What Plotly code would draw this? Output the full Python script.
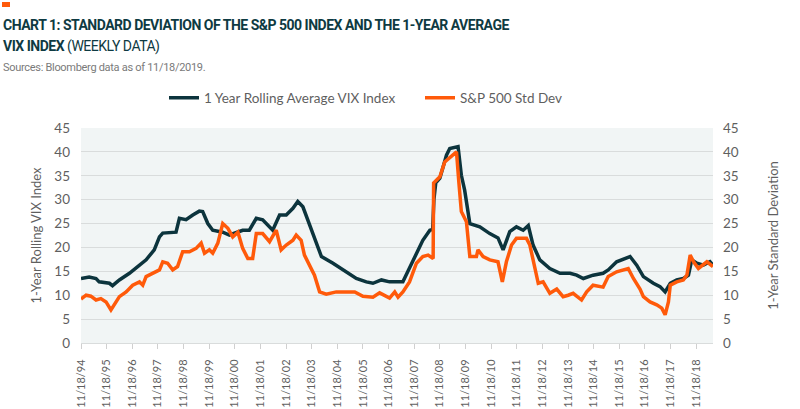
import plotly.graph_objects as go

# ---- data ----
vix_dates = ["1994-11-18","1995-03-15","1995-06-20","1995-08-04","1995-12-28","1996-02-10","1996-05-18",
             "1996-10-08","1997-02-03","1997-06-03","1997-09-27","1997-12-10","1998-01-26","1998-08-03",
             "1998-09-20","1998-12-24","1999-03-30","1999-07-01","1999-08-18","1999-10-30","2000-01-08",
             "2000-05-30","2000-09-02","2000-12-06","2001-03-10","2001-06-13","2001-09-20","2001-12-20",
             "2002-03-28","2002-05-12","2002-08-18","2002-11-21","2003-02-24","2003-05-04","2003-07-16",
             "2003-10-19","2004-01-22","2004-04-05","2004-09-17","2005-03-25","2005-08-15","2006-01-05",
             "2006-04-09","2006-08-08","2006-12-02","2007-06-10","2007-09-12","2007-12-20","2008-03-20",
             "2008-06-28","2008-08-07","2008-08-25","2008-09-20","2008-11-18","2009-02-20","2009-04-08",
             "2009-08-04","2009-09-20","2009-11-06","2010-01-19","2010-06-10","2010-10-30","2011-02-24",
             "2011-05-08","2011-08-11","2011-11-14","2012-02-18","2012-05-01","2012-07-08","2012-10-12",
             "2013-03-04","2013-07-27","2013-12-17","2014-03-21","2014-06-24","2014-11-10","2015-04-02",
             "2015-06-14","2015-10-12","2016-04-20","2016-07-24","2016-10-27","2017-03-18","2017-06-21",
             "2017-09-02","2017-11-14","2018-02-14","2018-05-19","2018-07-31","2018-09-16","2018-11-28",
             "2019-02-28","2019-06-03","2019-07-16"]
vix_values = [13.5,13.8,13.5,12.8,12.5,12.0,13.2,
              14.6,16.0,17.4,19.5,22.2,23.0,23.2,
              26.1,25.8,26.8,27.6,27.5,25.0,23.6,
              23.2,22.6,23.2,23.6,23.6,26.1,25.8,
              24.3,23.6,26.8,26.8,28.2,29.6,28.5,
              24.7,21.2,18.1,16.7,14.9,13.5,12.8,
              12.5,13.2,12.8,12.8,15.6,18.4,21.5,
              23.6,23.8,30.0,33.5,34.5,39.3,40.7,
              41.1,35.1,32.0,25.0,24.3,22.9,22.0,
              19.5,23.3,24.3,23.6,24.6,20.5,17.4,
              15.6,14.6,14.6,14.2,13.5,14.2,14.6,
              15.3,17.0,18.1,16.3,13.9,12.5,11.8,
              10.7,12.5,13.2,13.5,14.2,17.4,16.7,
              16.3,17.0,16.3]

sd_dates = ["1994-11-18","1995-01-30","1995-04-08","1995-06-20","1995-08-28","1995-11-10","1996-01-19",
            "1996-03-07","1996-05-18","1996-08-22","1996-11-24","1997-02-28","1997-04-16","1997-06-03",
            "1997-09-06","1997-12-10","1998-01-26","1998-04-05","1998-06-17","1998-08-25","1998-11-06",
            "1999-02-10","1999-05-16","1999-07-27","1999-09-13","1999-11-21","2000-01-08","2000-03-21",
            "2000-05-30","2000-08-11","2000-10-19","2001-01-01","2001-03-10","2001-05-22","2001-07-30",
            "2001-09-20","2001-12-20","2002-03-28","2002-07-01","2002-09-09","2002-11-21","2003-02-24",
            "2003-04-12","2003-06-21","2003-08-07","2003-10-19","2003-12-28","2004-03-10","2004-06-13",
            "2004-11-03","2005-03-25","2005-07-24","2005-11-18","2006-04-09","2006-07-13","2006-12-02",
            "2007-02-14","2007-04-02","2007-06-10","2007-09-12","2007-12-20","2008-03-20","2008-06-03",
            "2008-08-14","2008-08-21","2008-11-18","2009-01-26","2009-05-26","2009-07-13","2009-08-15",
            "2009-09-20","2009-12-01","2010-01-19","2010-04-23","2010-05-15","2010-07-27","2010-10-30",
            "2011-02-24","2011-04-27","2011-06-24","2011-09-05","2011-11-14","2012-04-05","2012-05-23",
            "2012-07-08","2012-09-20","2012-11-28","2013-03-04","2013-06-10","2013-09-09","2013-11-20",
            "2014-01-30","2014-05-30","2014-08-11","2014-11-10","2015-04-02","2015-06-14","2015-10-12",
            "2016-03-25","2016-06-07","2016-09-09","2016-10-27","2017-01-30","2017-05-05","2017-07-16",
            "2017-09-02","2017-10-19","2017-11-14","2018-02-14","2018-05-19","2018-07-09","2018-08-25",
            "2018-10-12","2018-12-20","2019-04-20","2019-07-01","2019-07-16"]
sd_values = [9.2,10.0,9.8,9.0,9.3,8.6,6.9,
             7.9,9.7,10.7,12.1,12.8,12.1,13.9,
             14.6,15.3,17.0,16.7,15.3,16.0,19.1,
             19.1,19.8,20.9,18.8,19.5,18.8,20.9,
             25.0,24.0,22.2,23.2,19.8,17.7,17.7,
             22.9,22.9,21.2,23.6,19.5,20.5,21.5,
             22.6,21.5,18.4,16.3,14.2,10.7,10.2,
             10.7,10.7,10.7,9.8,9.6,10.5,9.4,
             10.7,9.6,10.7,12.8,16.7,18.1,18.4,
             17.7,33.5,34.8,37.9,39.3,40.0,33.7,
             27.5,25.4,18.1,18.1,19.5,18.1,17.4,
             17.0,12.8,17.0,20.5,21.9,21.9,20.5,
             17.7,12.5,12.8,10.4,11.3,9.7,10.0,
             10.4,9.0,10.7,12.1,11.7,13.9,14.9,
             15.6,13.5,11.3,9.7,8.6,8.0,7.3,
             5.9,8.6,12.1,12.8,13.2,14.2,18.4,
             17.0,15.6,17.0,16.0,16.0]

tick_dates = ["%d-11-18" % y for y in range(1994, 2019)]
tick_labels = ["11/18/%02d" % (y % 100) for y in range(1994, 2019)]
y_ticks = [0, 5, 10, 15, 20, 25, 30, 35, 40, 45]

DARK = "#0C343D"
ORANGE = "#FF5A0A"
GRAY = "#5F5F5F"
TITLE_C = "#0E3A42"
FONT = "Lato"
TFONT = "Roboto"

fig = go.Figure()
fig.add_trace(go.Scatter(x=vix_dates, y=vix_values, mode="lines", name="1 Year Rolling Average VIX Index",
                         line=dict(color=DARK, width=3.5), yaxis="y"))
fig.add_trace(go.Scatter(x=sd_dates, y=sd_values, mode="lines", name="S&P 500 Std Dev",
                         line=dict(color=ORANGE, width=3.5), yaxis="y2"))

L, R, T, B = 81, 87, 128, 66
PW, PH = 800 - L - R, 409 - T - B
def px(x): return (x - L) / PW
def py(y): return (409 - B - y) / PH

TS = "letter-spacing:-0.5px"
fig.update_layout(
    width=800, height=409,
    margin=dict(l=L, r=R, t=T, b=B, pad=0, autoexpand=False),
    paper_bgcolor="white", plot_bgcolor="#F1F5F5",
    font=dict(family=FONT, size=13, color=GRAY),
    showlegend=True,
    legend=dict(orientation="h", x=px(164), y=py(98), xanchor="left", yanchor="middle",
                font=dict(family=FONT, size=13.5, color=GRAY), entrywidth=211, bgcolor="rgba(0,0,0,0)"),
    xaxis=dict(type="date", range=["1994-11-18", "2019-07-16"], tickvals=tick_dates, ticktext=tick_labels,
               tickangle=-90, tickfont=dict(family=FONT, size=11, color=GRAY), showgrid=False,
               ticks="outside", ticklen=5, tickcolor="#D0D0D0", showline=True, linecolor="#D9DCDC",
               zeroline=False, ticklabelstandoff=6, automargin=False),
    yaxis=dict(range=[0, 45], tickvals=y_ticks, showgrid=True, gridcolor="#D9DCDC", gridwidth=1,
               zeroline=False, tickfont=dict(family=FONT, size=13.5, color=GRAY), ticklabelstandoff=10,
               automargin=False,
               title=dict(text="1-Year Rolling VIX Index", font=dict(family=FONT, size=13, color=GRAY), standoff=9)),
    yaxis2=dict(range=[0, 45], tickvals=y_ticks, ticksuffix="%", overlaying="y", side="right", showgrid=False,
                zeroline=False, tickfont=dict(family=FONT, size=13.5, color=GRAY), ticklabelstandoff=9,
                automargin=False,
                title=dict(text="1-Year Standard Deviation", font=dict(family=FONT, size=13, color=GRAY), standoff=31)),
    shapes=[dict(type="rect", xref="paper", yref="paper", x0=px(2), x1=px(10), y0=py(7), y1=py(2),
                 fillcolor=ORANGE, line=dict(width=0))],
    annotations=[
        dict(text="<span style='%s'><b>CHART 1: STANDARD DEVIATION OF THE S&P 500 INDEX AND THE 1-YEAR AVERAGE</b></span>" % TS,
             xref="paper", yref="paper", x=px(1), y=py(25), xanchor="left", yanchor="middle", showarrow=False,
             font=dict(family=TFONT, size=14, color=TITLE_C)),
        dict(text="<span style='%s'><b>VIX INDEX</b> (WEEKLY DATA)</span>" % TS,
             xref="paper", yref="paper", x=px(1), y=py(46), xanchor="left", yanchor="middle", showarrow=False,
             font=dict(family=TFONT, size=14, color=TITLE_C)),
        dict(text="<span style='letter-spacing:-0.3px'>Sources: Bloomberg data as of 11/18/2019.</span>",
             xref="paper", yref="paper", x=px(1), y=py(68), xanchor="left", yanchor="middle", showarrow=False,
             font=dict(family=TFONT, size=11, color="#7A7A7A")),
    ],
)

fig.write_html("out.html", config={"displayModeBar": False},
               post_script="document.body.style.margin='0';document.body.style.overflow='hidden';")
